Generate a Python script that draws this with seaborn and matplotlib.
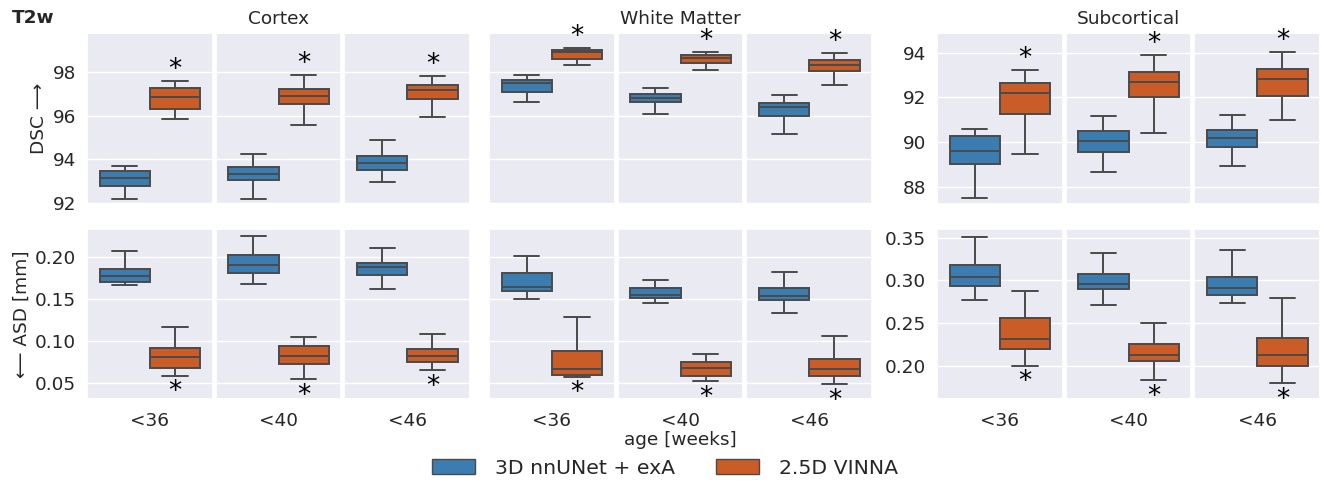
import numpy as np
import pandas as pd
import seaborn as sns
import matplotlib.pyplot as plt
from matplotlib.patches import Patch

# categories
ages = ["<36", "<40", "<46"]
models = ["3D nnUNet + exA", "2.5D VINNA"]
regions = ["Cortex", "White Matter", "Subcortical"]

# five-number summaries per box: [whisker low, q1, median, q3, whisker high]
# DSC, Cortex
dsc_cortex_nnunet = [[92.19, 92.77, 93.15, 93.46, 93.71],
                     [92.17, 93.03, 93.32, 93.66, 94.26],
                     [92.94, 93.51, 93.81, 94.17, 94.90]]
dsc_cortex_vinna = [[95.84, 96.30, 96.85, 97.26, 97.59],
                    [95.58, 96.54, 96.90, 97.25, 97.85],
                    [95.93, 96.79, 97.17, 97.42, 97.82]]
# DSC, White Matter
dsc_wm_nnunet = [[96.63, 97.08, 97.52, 97.62, 97.86],
                 [96.10, 96.63, 96.83, 96.99, 97.28],
                 [95.18, 95.99, 96.40, 96.60, 96.97]]
dsc_wm_vinna = [[98.31, 98.61, 98.92, 99.01, 99.09],
                [98.11, 98.40, 98.63, 98.78, 98.94],
                [97.39, 98.05, 98.35, 98.58, 98.86]]
# DSC, Subcortical
dsc_sub_nnunet = [[87.52, 89.04, 89.62, 90.27, 90.58],
                  [88.68, 89.59, 90.08, 90.49, 91.18],
                  [88.95, 89.79, 90.18, 90.55, 91.24]]
dsc_sub_vinna = [[89.50, 91.25, 92.19, 92.63, 93.24],
                 [90.40, 92.02, 92.71, 93.15, 93.90],
                 [90.98, 92.05, 92.81, 93.27, 94.04]]
# ASD, Cortex
asd_cortex_nnunet = [[0.1660, 0.1703, 0.1774, 0.1854, 0.2067],
                     [0.1679, 0.1810, 0.1901, 0.2016, 0.2241],
                     [0.1612, 0.1782, 0.1873, 0.1929, 0.2107]]
asd_cortex_vinna = [[0.0587, 0.0674, 0.0804, 0.0911, 0.1161],
                    [0.0547, 0.0729, 0.0816, 0.0939, 0.1046],
                    [0.0650, 0.0749, 0.0816, 0.0899, 0.1082]]
# ASD, White Matter
asd_wm_nnunet = [[0.1497, 0.1596, 0.1644, 0.1802, 0.2004],
                 [0.1450, 0.1509, 0.1540, 0.1628, 0.1723],
                 [0.1327, 0.1481, 0.1529, 0.1628, 0.1822]]
asd_wm_vinna = [[0.0575, 0.0599, 0.0670, 0.0880, 0.1287],
                [0.0519, 0.0583, 0.0682, 0.0745, 0.0848],
                [0.0488, 0.0587, 0.0662, 0.0785, 0.1058]]
# ASD, Subcortical
asd_sub_nnunet = [[0.2773, 0.2938, 0.3039, 0.3184, 0.3508],
                  [0.2711, 0.2898, 0.2953, 0.3078, 0.3324],
                  [0.2734, 0.2824, 0.2914, 0.3043, 0.3355]]
asd_sub_vinna = [[0.2000, 0.2195, 0.2313, 0.2555, 0.2879],
                 [0.1828, 0.2059, 0.2125, 0.2250, 0.2504],
                 [0.1793, 0.2000, 0.2125, 0.2324, 0.2793]]

summaries = {
    ("DSC", "Cortex"): (dsc_cortex_nnunet, dsc_cortex_vinna),
    ("DSC", "White Matter"): (dsc_wm_nnunet, dsc_wm_vinna),
    ("DSC", "Subcortical"): (dsc_sub_nnunet, dsc_sub_vinna),
    ("ASD", "Cortex"): (asd_cortex_nnunet, asd_cortex_vinna),
    ("ASD", "White Matter"): (asd_wm_nnunet, asd_wm_vinna),
    ("ASD", "Subcortical"): (asd_sub_nnunet, asd_sub_vinna),
}

rows = []
for (metric, region), per_model in summaries.items():
    for model, boxes in zip(models, per_model):
        for age, five in zip(ages, boxes):
            for v in five:
                rows.append({"metric": metric, "region": region, "model": model,
                             "age": age, "value": v})
df = pd.DataFrame(rows)

colors = ["#3b7cb1", "#c95c27"]
palette = dict(zip(models, colors))

ylims = {
    ("DSC", "Cortex"): (91.95, 99.8), ("DSC", "White Matter"): (91.95, 99.8),
    ("DSC", "Subcortical"): (87.26, 94.87),
    ("ASD", "Cortex"): (0.031, 0.233), ("ASD", "White Matter"): (0.031, 0.233),
    ("ASD", "Subcortical"): (0.161, 0.36),
}
yticks = {
    "Cortex": {"DSC": [92, 94, 96, 98], "ASD": [0.05, 0.10, 0.15, 0.20]},
    "Subcortical": {"DSC": [88, 90, 92, 94], "ASD": [0.20, 0.25, 0.30, 0.35]},
}
yticks["White Matter"] = yticks["Cortex"]

sns.set_theme(style="darkgrid")
W, H = 1324, 484
fig = plt.figure(figsize=(W / 100, H / 100), dpi=100)

FS = 13.3
group_left = {"Cortex": 87, "White Matter": 489, "Subcortical": 937}
sub_w, step = 125.7, 128.7
row_box = {"DSC": (33, 204), "ASD": (229, 399)}

for metric in ["DSC", "ASD"]:
    top, bot = row_box[metric]
    for region in regions:
        for i, age in enumerate(ages):
            left = group_left[region] + i * step
            ax = fig.add_axes([left / W, 1 - bot / H, sub_w / W, (bot - top) / H])
            sub = df[(df.metric == metric) & (df.region == region) & (df.age == age)]
            sns.boxplot(data=sub, x="age", y="value", hue="model", hue_order=models,
                        palette=palette, whis=(0, 100), showfliers=False,
                        saturation=1, linewidth=1.4, linecolor="#4a4a4a",
                        legend=False, ax=ax)
            ax.set_ylim(*ylims[(metric, region)])
            ax.set_yticks(yticks[region][metric])
            ax.set_xlabel("")
            ax.set_ylabel("")
            ax.tick_params(axis="y", labelsize=FS, pad=2)
            ax.tick_params(axis="x", labelsize=FS, pad=3)
            if metric == "DSC":
                ax.set_xticklabels([])
            show_y = i == 0 and region != "White Matter"
            if metric == "ASD":
                ax.set_yticklabels([f"{t:.2f}" for t in yticks[region][metric]]
                                   if show_y else [])
            elif not show_y:
                ax.set_yticklabels([])
            # significance markers on the VINNA box
            five = summaries[(metric, region)][1][i]
            if metric == "DSC":
                ax.annotate("*", (0.2, five[4]), xytext=(0, 8), textcoords="offset points",
                            ha="center", va="center", fontsize=19, color="black")
            else:
                ax.annotate("*", (0.2, five[0]), xytext=(0, -12), textcoords="offset points",
                            ha="center", va="center", fontsize=19, color="black")
            if i == 0 and region == "Cortex":
                ax.set_ylabel("DSC \u27f6" if metric == "DSC" else "\u27f5 ASD [mm]",
                              fontsize=FS, labelpad=3)

for region in regions:
    cx = group_left[region] + (2 * step + sub_w) / 2
    fig.text(cx / W, 1 - 19 / H, region, ha="center", va="center", fontsize=FS,
             color="#262626")
fig.text(12 / W, 1 - 18 / H, "T2w", ha="left", va="center", fontsize=FS,
         fontweight="bold")
fig.text(680 / W, 1 - 440 / H, "age [weeks]", ha="center", va="center", fontsize=FS,
         color="#262626")

handles = [Patch(facecolor=c, edgecolor="#4a4a4a", label=m) for m, c in zip(models, colors)]
fig.legend(handles=handles, loc="center", bbox_to_anchor=(665 / W, 1 - 468 / H),
           ncol=2, frameon=False, fontsize=14.7, handlelength=2.1, handleheight=0.75,
           columnspacing=2.0, handletextpad=1.0)

fig.savefig("out.png", dpi=100)
